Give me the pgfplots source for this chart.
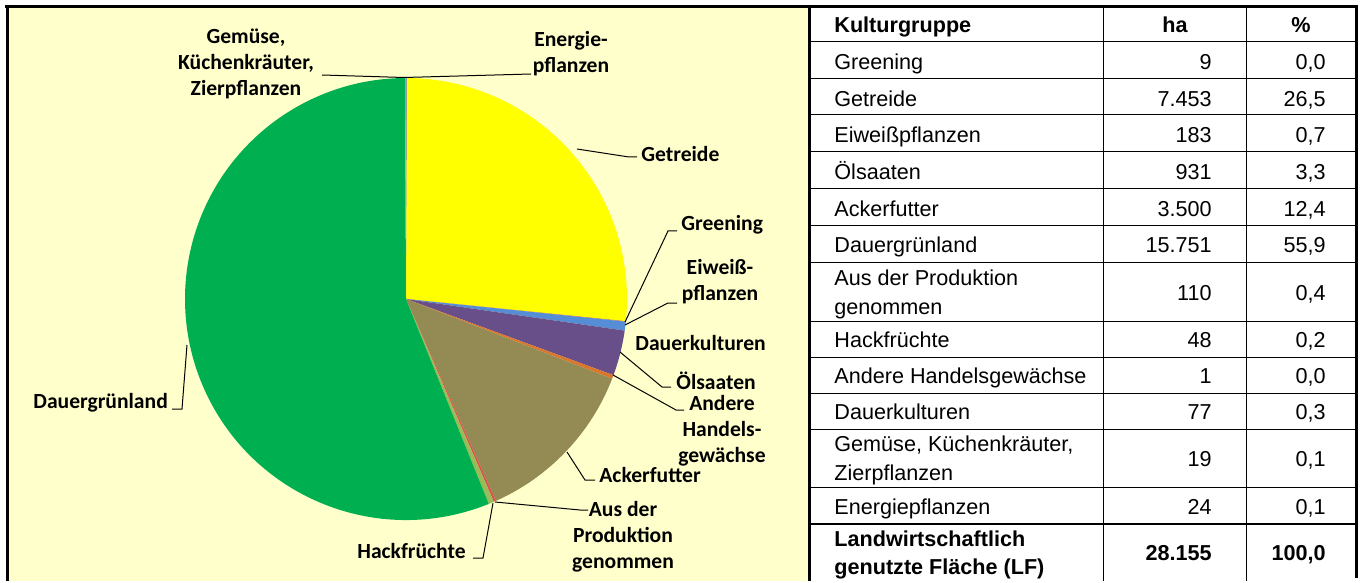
\documentclass[border=0pt]{standalone}
\usepackage{pgfplots}
\pgfplotsset{compat=1.18}
\usepackage{pgfplotstable}
\usepackage{fontspec}
\setmainfont{Liberation Sans}
\newfontfamily\carlito{Carlito}

\definecolor{panel}{HTML}{FFFFCC}
\definecolor{cGet}{HTML}{FFFF00}
\definecolor{cEiw}{HTML}{558ED5}
\definecolor{cOel}{HTML}{684F89}
\definecolor{cDau}{HTML}{D9772E}
\definecolor{cAck}{HTML}{948A54}
\definecolor{cAus}{HTML}{9BBB59}
\definecolor{cHac}{HTML}{D9534F}
\definecolor{cDgl}{HTML}{00B050}
\definecolor{cGem}{HTML}{9AA5A5}
\definecolor{cEne}{HTML}{8C9C9C}
\definecolor{cGre}{HTML}{C0504D}
\definecolor{cAnd}{HTML}{F79646}

% pie slices, clockwise from 12 o'clock
\pgfplotstableread{
ha col
24 cEne
7453 cGet
9 cGre
183 cEiw
931 cOel
77 cDau
1 cAnd
3500 cAck
48 cHac
110 cAus
15751 cDgl
19 cGem
}\piedata

\pgfplotstablegetrowsof{\piedata}
\edef\nrows{\pgfplotsretval}
\edef\lastrow{\inteval{\nrows-1}}
\def\pietotal{0}
\pgfplotsforeachungrouped\i in {0,...,\lastrow}{%
  \pgfplotstablegetelem{\i}{ha}\of\piedata
  \edef\pietotal{\fpeval{\pietotal+\pgfplotsretval}}%
}
\def\piecmds{}
\def\cum{0}
\pgfplotsforeachungrouped\i in {0,...,\lastrow}{%
  \pgfplotstablegetelem{\i}{ha}\of\piedata \edef\pval{\pgfplotsretval}%
  \pgfplotstablegetelem{\i}{col}\of\piedata \edef\pcol{\pgfplotsretval}%
  \edef\sa{\fpeval{90-360*\cum/\pietotal}}%
  \edef\cum{\fpeval{\cum+\pval}}%
  \edef\ea{\fpeval{90-360*\cum/\pietotal}}%
  \edef\piecmds{\unexpanded\expandafter{\piecmds}\noexpand\fill[\pcol] (axis cs:406,299) -- ++(\sa:110.5pt) arc[start angle=\sa,end angle=\ea,radius=110.5pt] -- cycle;}%
}

\begin{document}
\begin{tikzpicture}[
  plab/.style={font=\carlito\bfseries\fontsize{10.8}{13}\selectfont,align=center,inner sep=0pt},
  tc/.style={font=\fontsize{10.8}{14}\selectfont,inner sep=0pt,text height=0.72em,text depth=0.2em},
  tcb/.style={tc,font=\bfseries\fontsize{10.8}{14}\selectfont},
  tcm/.style={font=\fontsize{10.8}{14.5}\selectfont,inner sep=0pt,align=left,anchor=west},
  lead/.style={line width=0.5pt,black}]
\begin{axis}[x=0.5pt,y=0.5pt,xmin=0,xmax=1364,ymin=0,ymax=581,
  y dir=reverse,hide axis,clip=false]
% background
\fill[white] (axis cs:0,0) rectangle (axis cs:1364,581);
\fill[panel] (axis cs:7,7) rectangle (axis cs:809,581);
% pie
\piecmds
% leader lines
\draw[lead] (axis cs:322,75)--(axis cs:404,77.5);
\draw[lead] (axis cs:404,77.5)--(axis cs:531,74);
\draw[lead] (axis cs:577,149)--(axis cs:629,157)--(axis cs:637,157);
\draw[lead] (axis cs:625,322)--(axis cs:668,231)--(axis cs:677,231);
\draw[lead] (axis cs:625,325)--(axis cs:668,303)--(axis cs:677,303);
\draw[lead] (axis cs:620,352)--(axis cs:662,387)--(axis cs:671,387);
\draw[lead] (axis cs:613,375)--(axis cs:676,410)--(axis cs:684,410);
\draw[lead] (axis cs:567,452)--(axis cs:585,480)--(axis cs:595,480);
\draw[lead] (axis cs:495,502)--(axis cs:580,510)--(axis cs:588,510);
\draw[lead] (axis cs:493,503)--(axis cs:483,558)--(axis cs:473,558);
\draw[lead] (axis cs:187,345)--(axis cs:182,409)--(axis cs:172,409);
% pie labels
\node[plab] at (axis cs:246,64) {Gemüse,\\Küchenkräuter,\\Zierpflanzen};
\node[plab] at (axis cs:571,54) {Energie-\\pflanzen};
\node[plab,anchor=west] at (axis cs:641,154) {Getreide};
\node[plab,anchor=west] at (axis cs:681,225) {Greening};
\node[plab] at (axis cs:720,282) {Eiweiß-\\pflanzen};
\node[plab,anchor=west] at (axis cs:635,343) {Dauerkulturen};
\node[plab,anchor=west] at (axis cs:676,381) {Ölsaaten};
\node[plab] at (axis cs:722,431) {Andere\\Handels-\\gewächse};
\node[plab,anchor=west] at (axis cs:599,475) {Ackerfutter};
\node[plab] at (axis cs:623,537) {Aus der\\Produktion\\genommen};
\node[plab,anchor=west] at (axis cs:357,551) {Hackfrüchte};
\node[plab,anchor=west] at (axis cs:33,403) {Dauergrünland};
% table
\fill[white] (axis cs:809,7) rectangle (axis cs:1356,581);
\foreach \yy in {42,79,115,152,189,226,262,321,357,393,429,487}{
  \edef\tmp{\noexpand\draw[line width=0.5pt] (axis cs:809,\yy)--(axis cs:1356,\yy);}\tmp}
\draw[line width=1pt] (axis cs:809,524)--(axis cs:1356,524);
\draw[line width=0.5pt] (axis cs:1103,7)--(axis cs:1103,581);
\draw[line width=0.5pt] (axis cs:1246,7)--(axis cs:1246,581);
% header
\node[tcb,anchor=west] at (axis cs:834,27.5) {Kulturgruppe};
\node[tcb] at (axis cs:1175,27.5) {ha};
\node[tcb] at (axis cs:1301,27.5) {\%};
% rows
\node[tc,anchor=west] at (axis cs:834,64) {Greening};
\node[tc,anchor=east] at (axis cs:1212,64) {9};
\node[tc,anchor=east] at (axis cs:1326,64) {0,0};
\node[tc,anchor=west] at (axis cs:834,101) {Getreide};
\node[tc,anchor=east] at (axis cs:1212,101) {7.453};
\node[tc,anchor=east] at (axis cs:1326,101) {26,5};
\node[tc,anchor=west] at (axis cs:834,137.5) {Eiweißpflanzen};
\node[tc,anchor=east] at (axis cs:1212,137.5) {183};
\node[tc,anchor=east] at (axis cs:1326,137.5) {0,7};
\node[tc,anchor=west] at (axis cs:834,174) {Ölsaaten};
\node[tc,anchor=east] at (axis cs:1212,174) {931};
\node[tc,anchor=east] at (axis cs:1326,174) {3,3};
\node[tc,anchor=west] at (axis cs:834,211) {Ackerfutter};
\node[tc,anchor=east] at (axis cs:1212,211) {3.500};
\node[tc,anchor=east] at (axis cs:1326,211) {12,4};
\node[tc,anchor=west] at (axis cs:834,247) {Dauergrünland};
\node[tc,anchor=east] at (axis cs:1212,247) {15.751};
\node[tc,anchor=east] at (axis cs:1326,247) {55,9};
\node[tcm] at (axis cs:834,294.5) {Aus der Produktion\\genommen};
\node[tc,anchor=east] at (axis cs:1212,295) {110};
\node[tc,anchor=east] at (axis cs:1326,295) {0,4};
\node[tc,anchor=west] at (axis cs:834,342) {Hackfrüchte};
\node[tc,anchor=east] at (axis cs:1212,342) {48};
\node[tc,anchor=east] at (axis cs:1326,342) {0,2};
\node[tc,anchor=west] at (axis cs:834,378) {Andere Handelsgewächse};
\node[tc,anchor=east] at (axis cs:1212,378) {1};
\node[tc,anchor=east] at (axis cs:1326,378) {0,0};
\node[tc,anchor=west] at (axis cs:834,414) {Dauerkulturen};
\node[tc,anchor=east] at (axis cs:1212,414) {77};
\node[tc,anchor=east] at (axis cs:1326,414) {0,3};
\node[tcm] at (axis cs:834,460) {Gemüse, Küchenkräuter,\\Zierpflanzen};
\node[tc,anchor=east] at (axis cs:1212,461) {19};
\node[tc,anchor=east] at (axis cs:1326,461) {0,1};
\node[tc,anchor=west] at (axis cs:834,509) {Energiepflanzen};
\node[tc,anchor=east] at (axis cs:1212,509) {24};
\node[tc,anchor=east] at (axis cs:1326,509) {0,1};
\node[tcm,font=\bfseries\fontsize{10.8}{14}\selectfont] at (axis cs:834,555) {Landwirtschaftlich\\genutzte Fläche (LF)};
\node[tcb,anchor=east] at (axis cs:1212,555) {28.155};
\node[tcb,anchor=east] at (axis cs:1326,555) {100,0};
% outer borders
\draw[line width=1.5pt] (axis cs:5,6.5)--(axis cs:1357,6.5);
\draw[line width=1.5pt] (axis cs:7,5)--(axis cs:7,581);
\draw[line width=1.5pt] (axis cs:809.5,5)--(axis cs:809.5,581);
\draw[line width=1.5pt] (axis cs:1356,5)--(axis cs:1356,578);
\end{axis}
\end{tikzpicture}
\end{document}
